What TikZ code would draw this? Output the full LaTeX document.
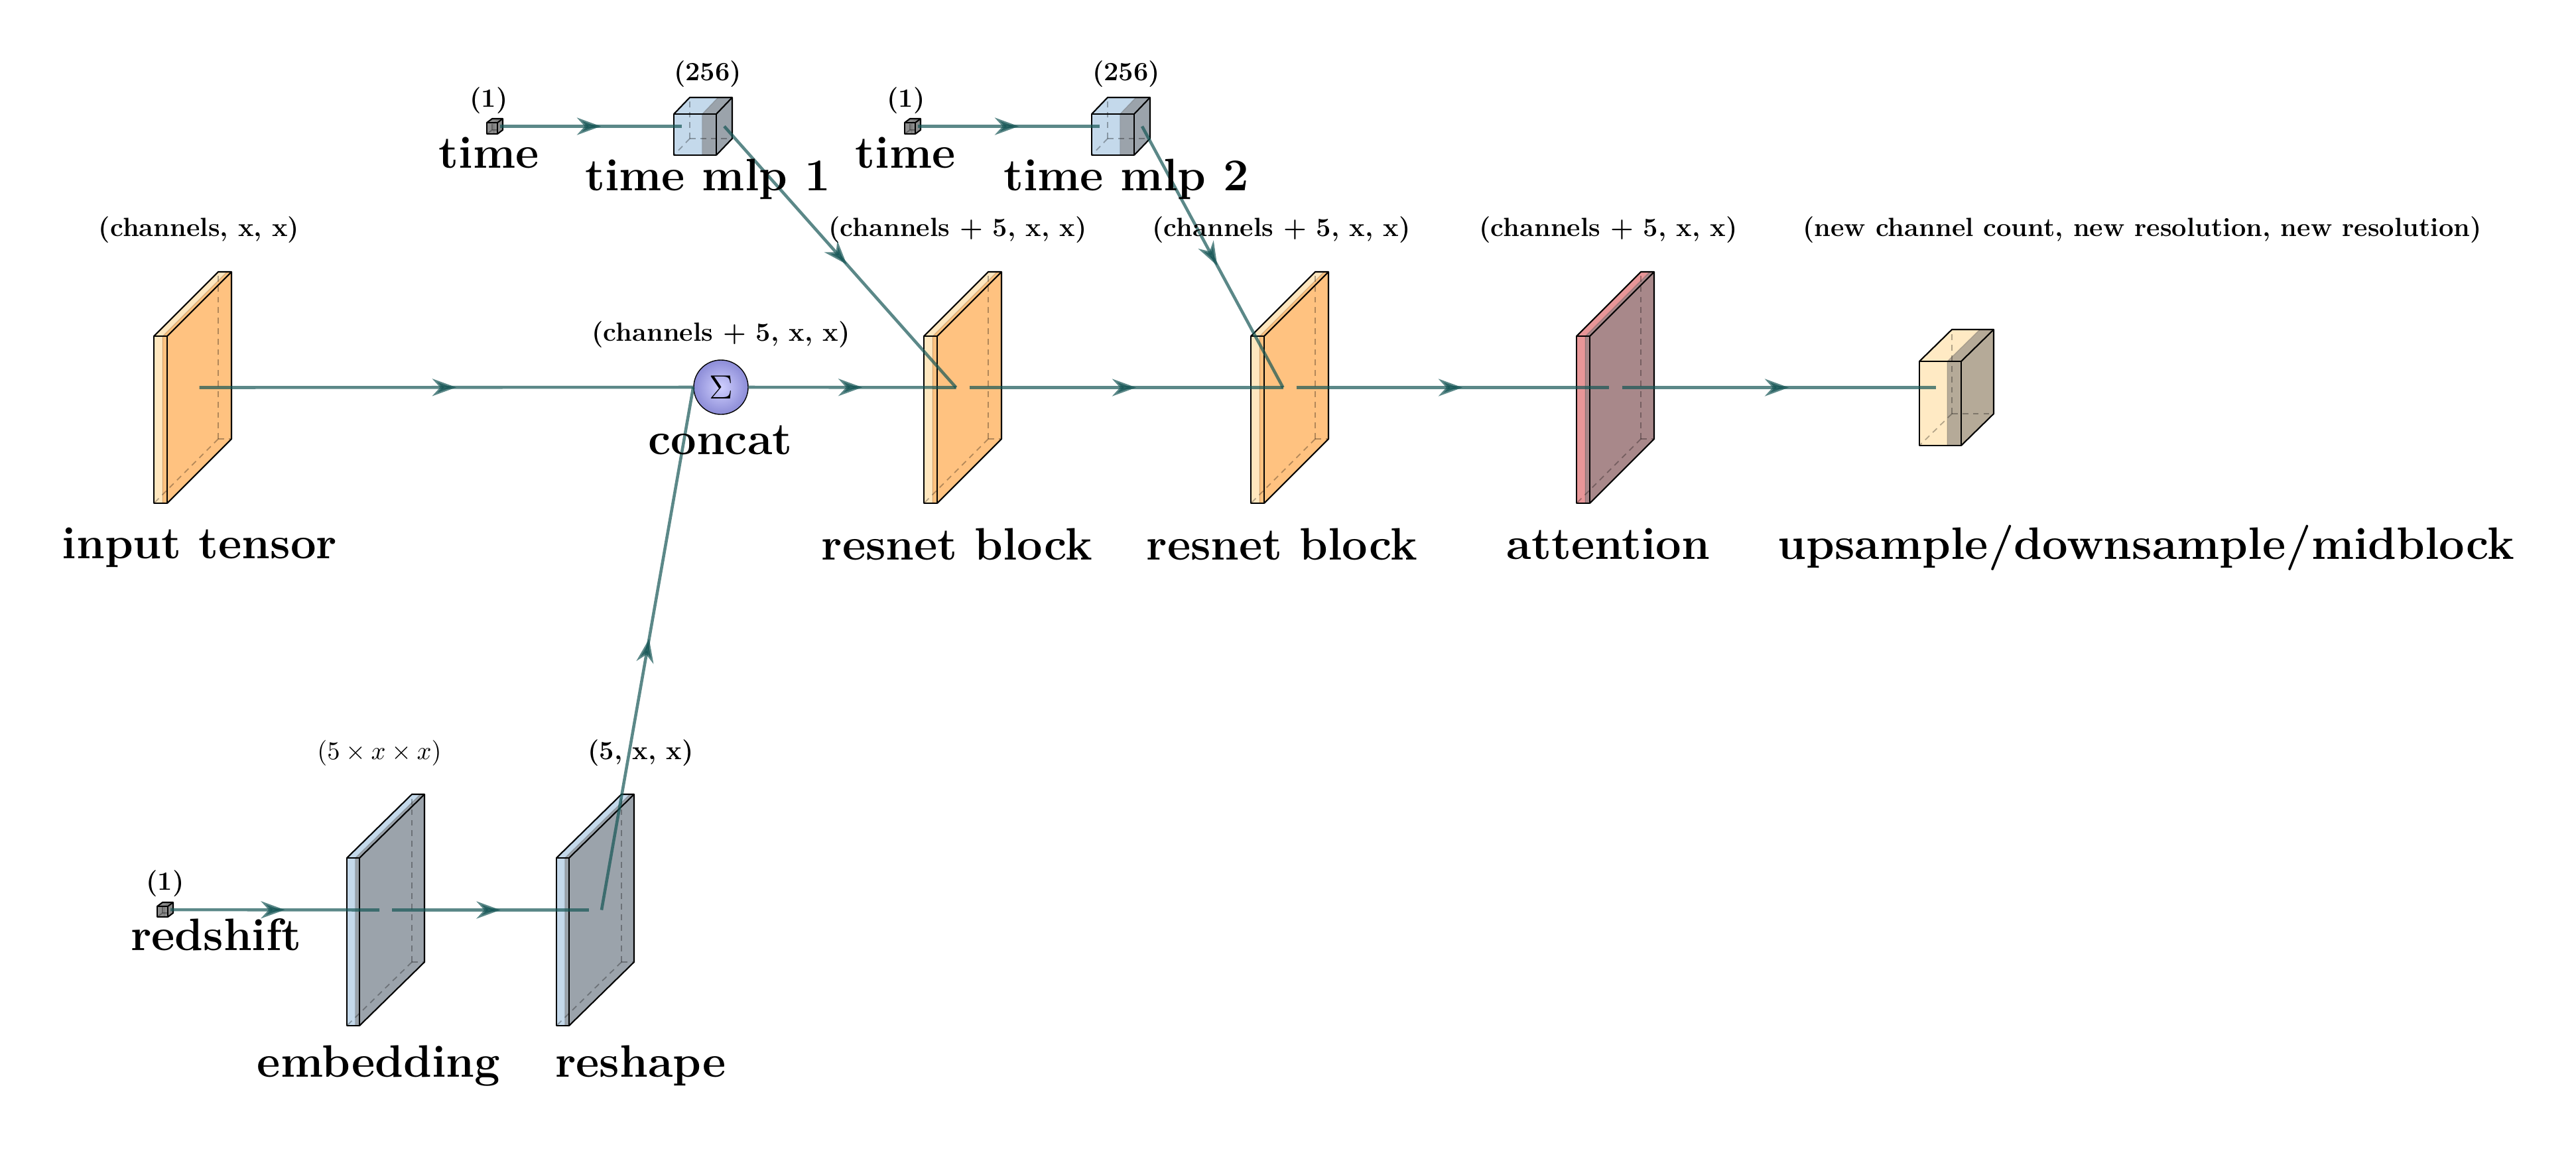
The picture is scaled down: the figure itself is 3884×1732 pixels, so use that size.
\documentclass[tikz,border=0pt]{standalone}
\usetikzlibrary{arrows.meta,decorations.markings}
\definecolor{orgL}{RGB}{255,231,191}
\definecolor{orgB}{RGB}{255,194,128}
\definecolor{bluL}{RGB}{196,217,235}
\definecolor{bluB}{RGB}{155,163,171}
\definecolor{pnkL}{RGB}{232,150,152}
\definecolor{pnkB}{RGB}{168,136,138}
\definecolor{crmL}{RGB}{255,234,196}
\definecolor{crmB}{RGB}{181,170,152}
\definecolor{cubeG}{RGB}{140,140,140}
\definecolor{connC}{RGB}{21,85,85}
\definecolor{ballI}{RGB}{208,208,255}
\definecolor{ballO}{RGB}{140,140,215}
\newcommand{\slab}[9]{%
  \pgfmathsetmacro\bx{#2+#4*2/3}%
  \fill[#8] (#2,#3) rectangle (\bx,#3-#5);
  \fill[#9] (\bx,#3) rectangle (#2+#4,#3-#5);
  \fill[#8] (#2,#3-#5) -- (\bx,#3-#5) -- ++(#6,-#7) -- (#2+#6,#3-#5-#7) -- cycle;
  \fill[#9] (\bx,#3-#5) -- (#2+#4,#3-#5) -- ++(#6,-#7) -- (\bx+#6,#3-#5-#7) -- cycle;
  \fill[#9] (#2+#4,#3) -- ++(#6,-#7) -- ++(0,-#5) -- (#2+#4,#3-#5) -- cycle;
  \draw[hid] (#2+#6,#3-#7) -- ++(0,-#5);
  \draw[hid] (#2+#6,#3-#7) -- ++(#4,0);
  \draw[hid] (#2+#6,#3-#7) -- (#2,#3);
  \draw[divl] (\bx,#3) -- (\bx,#3-#5) -- ++(#6,-#7);
  \draw[boxedge] (#2,#3) rectangle (#2+#4,#3-#5);
  \draw[boxedge] (#2,#3-#5) -- ++(#6,-#7) -- ++(#4,0) -- ++(0,#5) -- (#2+#4,#3);
  \draw[boxedge] (#2+#4,#3-#5) -- ++(#6,-#7);
  \coordinate (#1-west) at (#2+#6/2,#3-#5/2-#7/2);
  \coordinate (#1-east) at (#2+#4+#6/2,#3-#5/2-#7/2);
}
\begin{document}
\begin{tikzpicture}[x=0.01cm,y=-0.01cm,
  hid/.style={dashed,dash pattern=on 2.5pt off 2pt,draw=black,draw opacity=0.3,line width=0.5pt},
  divl/.style={draw=black,draw opacity=0.15,line width=0.4pt},
  boxedge/.style={draw=black,line width=0.6pt,line join=round},
  conn/.style={draw=connC,draw opacity=0.7,line width=1.3pt},
  midarr/.style={conn,postaction={decorate},decoration={markings,
     mark=at position 0.5 with {\arrow[xshift=1.5mm,connC,opacity=0.7]{Stealth[length=3.6mm,width=2.6mm]}}}},
  big/.style={font=\fontsize{19.5pt}{22pt}\selectfont\bfseries,inner sep=0pt},
  small/.style={font=\fontsize{11.3pt}{13pt}\selectfont\bfseries,inner sep=0pt},
  sumball/.style={circle,draw=black,line width=0.4pt,minimum size=0.82cm,inner sep=0pt,
     shading=radial,inner color=ballI,outer color=ballO}]
\useasboundingbox (0,0) rectangle (3884,1732);

% boxes
\slab{tcA}{734}{202}{16}{17}{8}{6}{cubeG}{cubeG}
\slab{mlpA}{1016}{234}{64}{62}{24}{25}{bluL}{bluB}
\slab{tcB}{1364}{202}{16}{17}{8}{6}{cubeG}{cubeG}
\slab{mlpB}{1646}{234}{64}{62}{24}{25}{bluL}{bluB}
\slab{inp}{232}{759}{20}{252}{97}{97}{orgL}{orgB}
\slab{resA}{1393}{759}{20}{252}{97}{97}{orgL}{orgB}
\slab{resB}{1886}{759}{20}{252}{97}{97}{orgL}{orgB}
\slab{att}{2377}{759}{20}{252}{97}{97}{pnkL}{pnkB}
\slab{ups}{2894}{672}{63}{127}{49}{48}{crmL}{crmB}
\slab{rc}{237}{1383}{16}{16}{8}{6}{cubeG}{cubeG}
\slab{emb}{523}{1547}{19}{253}{98}{96}{bluL}{bluB}
\slab{resh}{839}{1547}{19}{253}{98}{96}{bluL}{bluB}

\node[sumball] (cat) at (1087,584) {\fontsize{15pt}{15pt}\selectfont$\Sigma$};

% connectors
\draw[midarr] (tcA-east) -- (mlpA-west);
\draw[midarr] (tcB-east) -- (mlpB-west);
\draw[midarr] (mlpA-east) -- (resA-west);
\draw[midarr] (mlpB-east) -- (resB-west);
\draw[midarr] (inp-east) -- (cat.west);
\draw[midarr] (cat.east) -- (resA-west);
\draw[midarr] (resA-east) -- (resB-west);
\draw[midarr] (resB-east) -- (att-west);
\draw[midarr] (att-east) -- (ups-west);
\draw[midarr] (rc-east) -- (emb-west);
\draw[midarr] (emb-east) -- (resh-west);
\draw[midarr] (resh-east) -- (cat.west);

% dimension labels
\node[small] (dA1) at (737,152) {(1)};
\node[small] (dA2) at (1067,112) {(256)};
\node[small] (dB1) at (1366,152) {(1)};
\node[small] (dB2) at (1698,112) {(256)};
\node[small] (dinp) at (300,347) {(channels, x, x)};
\node[small] (dcat) at (1087,505) {(channels + 5, x, x)};
\node[small] (dresA) at (1444,347) {(channels + 5, x, x)};
\node[small] (dresB) at (1932,347) {(channels + 5, x, x)};
\node[small] (datt) at (2425,347) {(channels + 5, x, x)};
\node[small] (dups) at (3230,347) {(new channel count, new resolution, new resolution)};
\node[small] (drc) at (249,1333) {(1)};
\node[small,font=\fontsize{11.3pt}{13pt}\selectfont] (demb) at (572,1136) {$(5\times x\times x)$};
\node[small] (dresh) at (966,1136) {(5, x, x)};

% captions
\node[big,anchor=base] (ctA) at (737,253) {time};
\node[big,anchor=base] (cmA) at (1067,287) {time mlp 1};
\node[big,anchor=base] (ctB) at (1365,253) {time};
\node[big,anchor=base] (cmB) at (1698,287) {time mlp 2};
\node[big,anchor=base] (cinp) at (301,842) {input tensor};
\node[big,anchor=base] (ccat) at (1086,685) {concat};
\node[big,anchor=base] (cresA) at (1443,844) {resnet block};
\node[big,anchor=base] (cresB) at (1933,844) {resnet block};
\node[big,anchor=base] (catt) at (2425,843) {attention};
\node[big,anchor=base] (cups) at (3236,843) {upsample/downsample/midblock};
\node[big,anchor=base] (crc) at (326,1433) {redshift};
\node[big,anchor=base] (cemb) at (571,1624) {embedding};
\node[big,anchor=base] (cresh) at (966,1624) {reshape};
\end{tikzpicture}
\end{document}
